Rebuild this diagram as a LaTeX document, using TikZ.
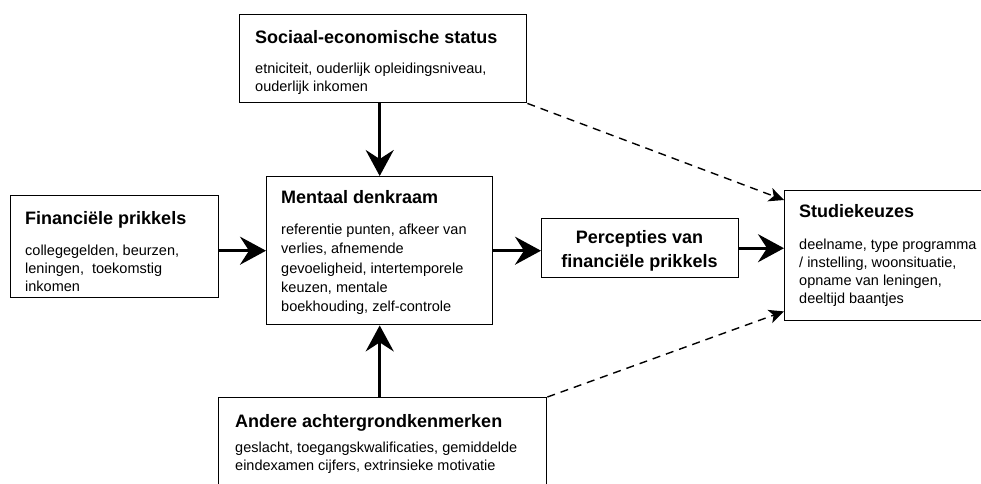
\documentclass[tikz,border=0pt]{standalone}
\usepackage{fontspec}
\setmainfont{Liberation Sans}
\usetikzlibrary{arrows.meta}
\begin{document}
\begin{tikzpicture}[x=1pt,y=-1pt,
  box/.style={draw, line width=1.4pt, inner sep=0pt, anchor=north west},
  ttl/.style={anchor=base west, inner sep=0pt, font=\fontsize{18}{21}\selectfont\bfseries},
  txt/.style={anchor=base west, inner sep=0pt, font=\fontsize{14.5}{18}\selectfont},
  flow/.style={line width=3pt, -{Stealth[length=26pt,width=28pt,inset=9pt]}},
  hint/.style={line width=1.4pt, dash pattern=on 8pt off 6pt, -{Stealth[length=15pt,width=14pt,inset=4pt]}}]
\useasboundingbox (0,0) rectangle (981,483);
\clip (0,0) rectangle (981,483);

% boxes
\node[box, minimum width=287pt, minimum height=88pt] (ses) at (239,14) {};
\node[box, minimum width=208pt, minimum height=102pt] (fin) at (10,195) {};
\node[box, minimum width=226pt, minimum height=148pt] (mental) at (266,176) {};
\node[box, minimum width=197pt, minimum height=59pt] (perc) at (541,218) {};
\node[box, minimum width=210pt, minimum height=130pt] (studie) at (784,190) {};
\node[box, minimum width=328pt, minimum height=100pt] (andere) at (218,397) {};

% texts
\node[ttl] (sesT) at (255,43) {Sociaal-economische status};
\node[txt] (sesA) at (255,73) {etniciteit, ouderlijk opleidingsniveau,};
\node[txt] (sesB) at (255,91) {ouderlijk inkomen};

\node[ttl] (finT) at (25,224) {Financiële prikkels};
\node[txt] (finA) at (25,255) {collegegelden, beurzen,};
\node[txt] (finB) at (25,273) {leningen,\ \ toekomstig};
\node[txt] (finC) at (25,291) {inkomen};

\node[ttl] (menT) at (281,203) {Mentaal denkraam};
\node[txt] (menA) at (281,234) {referentie punten, afkeer van};
\node[txt] (menB) at (281,253) {verlies, afnemende};
\node[txt] (menC) at (281,273) {gevoeligheid, intertemporele};
\node[txt] (menD) at (281,292) {keuzen, mentale};
\node[txt] (menE) at (281,311) {boekhouding, zelf-controle};

\node[ttl, anchor=base] (percA) at (639.5,243) {Percepties van};
\node[ttl, anchor=base] (percB) at (639.5,267) {financiële prikkels};

\node[ttl] (stuT) at (799,217) {Studiekeuzes};
\node[txt] (stuA) at (799,249) {deelname, type programma};
\node[txt] (stuB) at (799,267) {/ instelling, woonsituatie,};
\node[txt] (stuC) at (799,285) {opname van leningen,};
\node[txt] (stuD) at (799,303) {deeltijd baantjes};

\node[ttl] (andT) at (235,427) {Andere achtergrondkenmerken};
\node[txt] (andA) at (235,452) {geslacht, toegangskwalificaties, gemiddelde};
\node[txt] (andB) at (235,470) {eindexamen cijfers, extrinsieke motivatie};

% connectors
\draw[flow] (mental.north |- ses.south) -- (mental.north);
\draw[flow] (mental.south |- andere.north) -- (mental.south);
\draw[flow] (fin.east |- mental.west) -- (mental.west);
\draw[flow] (mental.east) -- (mental.east -| perc.west);
\draw[flow] (perc.east) -- (perc.east -| studie.west);
\draw[hint] (ses.south east) -- ([yshift=-10pt]studie.north west);
\draw[hint] (andere.north east) -- ([yshift=10pt]studie.south west);
\end{tikzpicture}
\end{document}
